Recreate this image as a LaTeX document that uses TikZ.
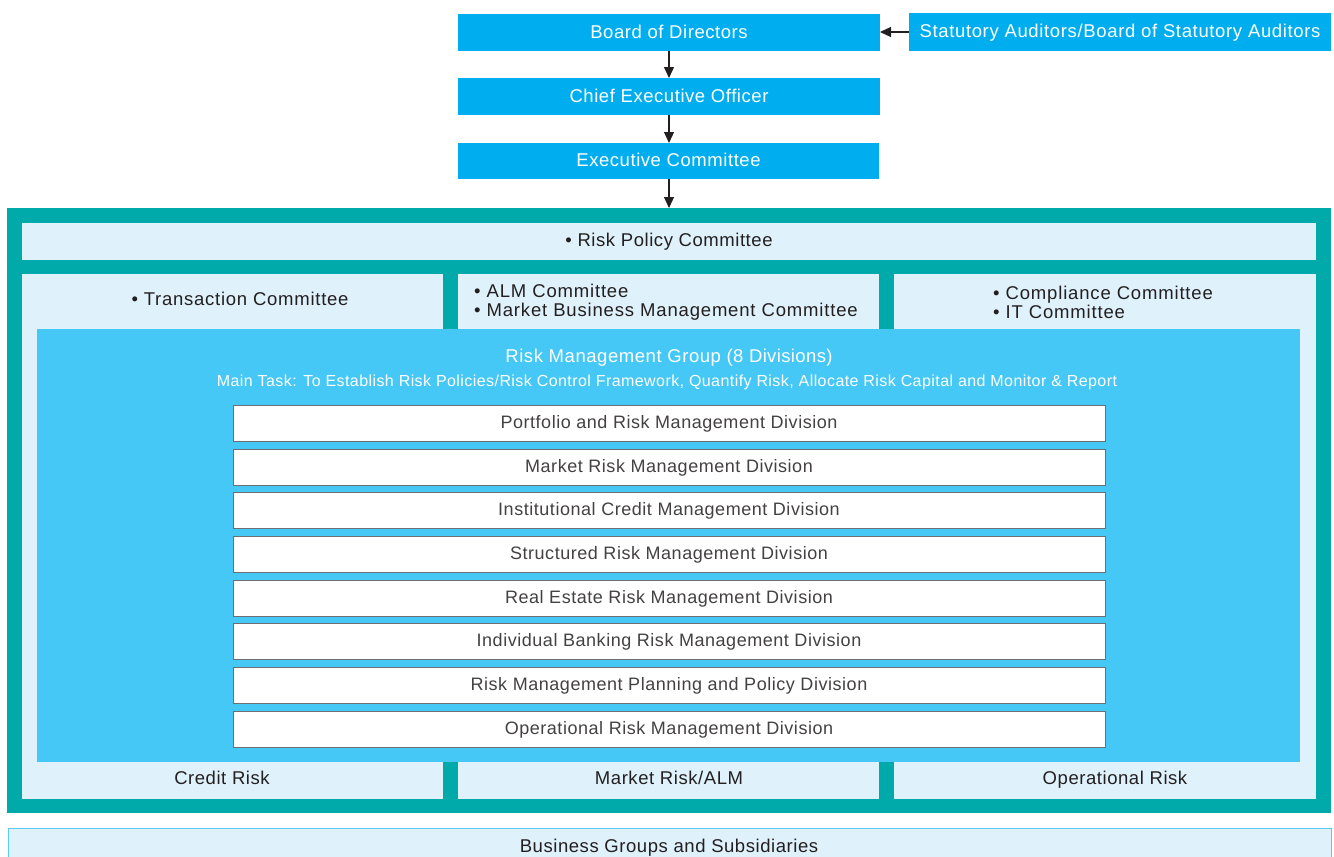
\documentclass[tikz,border=0pt]{standalone}
\usepackage{fontspec}
\setmainfont[LetterSpace=3]{Liberation Sans}
\usetikzlibrary{arrows.meta}
\definecolor{topblue}{HTML}{00AEEF}
\definecolor{rmteal}{HTML}{00A9AA}
\definecolor{lightbox}{HTML}{DFF2FB}
\definecolor{innerblue}{HTML}{45C8F5}
\definecolor{darktext}{HTML}{231F20}
\definecolor{boxline}{HTML}{6D6E71}
\definecolor{bottomline}{HTML}{5BC9F0}
\begin{document}
\begin{tikzpicture}[x=1pt,y=-1pt,
  rect/.style={inner sep=0pt, outer sep=0pt, anchor=north west},
  txt/.style={text height=14.5pt, text depth=2.7pt},
  topbox/.style={rect, txt, fill=topblue, text=white, font=\fontsize{18.5}{22}\selectfont},
  lightrect/.style={rect, fill=lightbox},
  divbox/.style={rect, txt, fill=white, draw=boxline, line width=1pt, text=darktext!85!white,
                 minimum width=872pt, minimum height=36pt, font=\fontsize{18}{22}\selectfont},
  plainlbl/.style={inner sep=0pt, text=darktext, font=\fontsize{18.5}{22}\selectfont},
  lbl/.style={plainlbl, txt},
  listlbl/.style={plainlbl, anchor=west, align=left, font=\fontsize{18.5}{19}\selectfont\addfontfeature{LetterSpace=4.5}},
  arr/.style={draw=darktext, line width=1.2pt, -{Triangle[length=11pt,width=10pt]}}]
\useasboundingbox (0,0) rectangle (1334,857);
% top chain
\node[topbox, minimum width=422pt, minimum height=37pt] (bod) at (458,14) {Board of Directors};
\node[topbox, minimum width=422pt, minimum height=37pt] (ceo) at (458,78) {Chief Executive Officer};
\node[topbox, minimum width=421pt, minimum height=36pt] (exc) at (458,143) {Executive Committee};
\node[topbox, minimum width=422pt, minimum height=38pt] (sa) at (909,13) {\addfontfeature{LetterSpace=3.5}Statutory Auditors/Board of Statutory Auditors};
% frame
\node[rect, fill=rmteal, minimum width=1324pt, minimum height=605pt] (frame) at (7,208) {};
\node[lightrect, minimum width=1294pt, minimum height=37pt] (rpc) at (22,223) {};
\node[lbl] (rpct) at (669,241) {• Risk Policy Committee};
\node[lightrect, minimum width=421pt, minimum height=525pt] (colL) at (22,274) {};
\node[lightrect, minimum width=421pt, minimum height=525pt] (colM) at (458,274) {};
\node[lightrect, minimum width=422pt, minimum height=525pt] (colR) at (894,274) {};
\node[lbl] (tc) at (240,300) {\addfontfeature{LetterSpace=4}• Transaction Committee};
\node[listlbl] (alm) at (474,302.5) {• ALM Committee\\• Market Business Management Committee};
\node[listlbl] (comp) at (993,302.5) {• Compliance Committee\\• IT Committee};
\node[lbl] (cr) at (222,779) {Credit Risk};
\node[lbl] (mr) at (669,779) {Market Risk/ALM};
\node[lbl] (opr) at (1115,779) {Operational Risk};
% risk management group
\node[rect, fill=innerblue, minimum width=1263pt, minimum height=433pt] (rmg) at (37,329) {};
\node[lbl, text=white] (rmgt) at (669,357) {Risk Management Group {\addfontfeature{LetterSpace=2}(8 Divisions)}};
\node[plainlbl, text=white, text height=12.5pt, text depth=2.5pt, font=\fontsize{16}{18}\selectfont\addfontfeature{LetterSpace=2.7}] (task) at (667,381) {Main Task: To Establish Risk Policies/Risk Control Framework, Quantify Risk, Allocate Risk Capital and Monitor \& Report};
\node[divbox] (d1) at (233,405) {Portfolio and Risk Management Division};
\node[divbox] (d2) at (233,449) {Market Risk Management Division};
\node[divbox] (d3) at (233,492) {Institutional Credit Management Division};
\node[divbox] (d4) at (233,536) {Structured Risk Management Division};
\node[divbox] (d5) at (233,580) {Real Estate Risk Management Division};
\node[divbox] (d6) at (233,623) {Individual Banking Risk Management Division};
\node[divbox] (d7) at (233,667) {Risk Management Planning and Policy Division};
\node[divbox] (d8) at (233,711) {Operational Risk Management Division};
% bottom
\node[rect, fill=lightbox, draw=bottomline, line width=1pt, minimum width=1323pt, minimum height=45pt] (bgs) at (8,828) {};
\node[lbl] (bgst) at (669,847) {Business Groups and Subsidiaries};
% arrows
\draw[arr] (bod.south) -- (bod.south |- ceo.north);
\draw[arr] (ceo.south) -- (ceo.south |- exc.north);
\draw[arr] (ceo.south |- exc.south) -- (ceo.south |- frame.north);
\draw[arr] (sa.west) -- (sa.west -| bod.east);
\end{tikzpicture}
\end{document}
